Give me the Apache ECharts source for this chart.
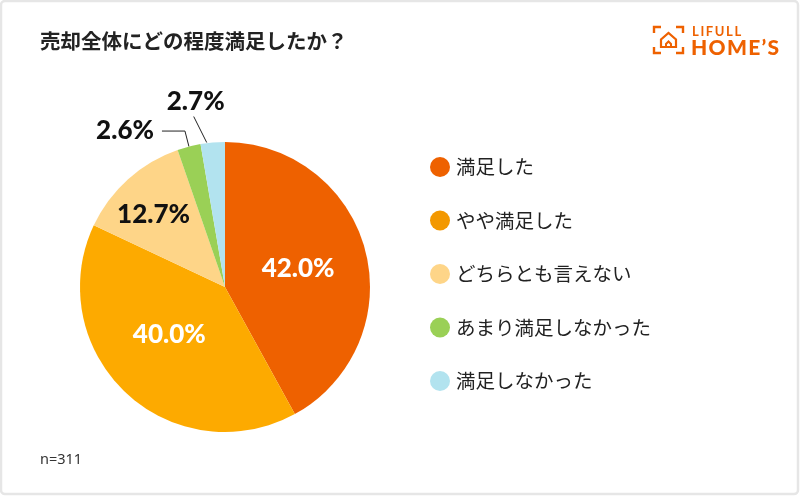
<!DOCTYPE html>
<html>
<head>
<meta charset="utf-8">
<script src="https://cdn.jsdelivr.net/npm/echarts@6/dist/echarts.min.js"></script>
<style>
html,body{margin:0;padding:0;background:#fff;}
#main{width:800px;height:496px;}
</style>
</head>
<body>
<div id="main"></div>
<script>
const categories = ['満足した', 'やや満足した', 'どちらとも言えない', 'あまり満足しなかった', '満足しなかった'];
const values = [42.0, 40.0, 12.7, 2.6, 2.7];
const sliceColors = ['#EE6100', '#FDAA00', '#FED588', '#9AD056', '#B2E3EF'];
const legendColors = ['#EE6100', '#F39800', '#FED588', '#9AD056', '#B2E3EF'];
const labelColors = ['#ffffff', '#ffffff', '#111111', '#111111', '#111111'];
const titleText = '売却全体にどの程度満足したか？';
const noteText = 'n=311';

const orange = '#EE6100';
const chart = echarts.init(document.getElementById('main'));

const data = categories.map((name, i) => ({
  name: name,
  value: values[i],
  itemStyle: { color: sliceColors[i] },
  label: {
    position: i < 3 ? 'inside' : 'outside',
    color: labelColors[i]
  },
  labelLine: { show: i >= 3, length: i === 3 ? 16 : 28, length2: i === 3 ? 23 : 0 }
}));

const option = {
  animation: false,
  backgroundColor: '#ffffff',
  title: {
    text: titleText,
    left: 40,
    top: 31,
    padding: 0,
    textStyle: { fontFamily: 'Noto Sans CJK JP', fontSize: 20.5, fontWeight: 'bold', color: '#222222' }
  },
  legend: {
    orient: 'vertical',
    left: 425,
    top: 152,
    itemWidth: 20,
    itemHeight: 20,
    itemGap: 33.5,
    icon: 'circle',
    selectedMode: false,
    data: categories.map((name, i) => ({ name: name, itemStyle: { color: legendColors[i] } })),
    textStyle: { fontFamily: 'Noto Sans CJK JP', fontSize: 19.5, color: '#222222', padding: [0, 0, 0, 1], lineHeight: 20 }
  },
  graphic: [
    { type: 'rect', shape: { x: 1, y: 1, width: 797, height: 493, r: 4 }, style: { fill: 'none', stroke: '#e6e6e6', lineWidth: 2.5 }, silent: true },
    { type: 'text', left: 40, top: 452, style: { text: noteText, font: '14.5px "Noto Sans"', fill: '#333333' } },
    // logo brackets
    { type: 'polyline', shape: { points: [[654, 33], [654, 27], [661, 27]] }, style: { stroke: orange, lineWidth: 2.4, fill: 'none' } },
    { type: 'polyline', shape: { points: [[676, 27], [683, 27], [683, 33]] }, style: { stroke: orange, lineWidth: 2.4, fill: 'none' } },
    { type: 'polyline', shape: { points: [[654, 47], [654, 53], [661, 53]] }, style: { stroke: orange, lineWidth: 2.4, fill: 'none' } },
    { type: 'polyline', shape: { points: [[676, 53], [683, 53], [683, 47]] }, style: { stroke: orange, lineWidth: 2.4, fill: 'none' } },
    { type: 'polygon', shape: { points: [[661, 47], [661, 39.5], [668.5, 33], [676, 39.5], [676, 47]] }, style: { stroke: orange, lineWidth: 2.2, fill: 'none' } },
    { type: 'polyline', shape: { points: [[666, 47], [666, 44], [668.5, 41.5], [671, 44], [671, 47]] }, style: { stroke: orange, lineWidth: 2, fill: 'none' } },
    { type: 'text', left: 692, top: 25, style: { text: 'L\u2009I\u2009F\u2009U\u2009L\u2009L', font: 'bold 13px Lato', fill: orange } },
    { type: 'text', left: 691, top: 38, style: { text: 'H\u200aO\u200aM\u200aE\u200a’\u200aS', font: '900 21px Lato', fill: orange } }
  ],
  series: [{
    type: 'pie',
    center: [225, 287],
    radius: 145,
    startAngle: 90,
    clockwise: true,
    avoidLabelOverlap: false,
    silent: true,
    data: data,
    label: {
      show: true,
      fontFamily: 'Lato',
      fontWeight: 900,
      fontSize: 26,
      distanceToLabelLine: 8,
      formatter: p => p.value.toFixed(1) + '%'
    },
    labelLine: {
      lineStyle: { color: '#222222', width: 1 }
    },
    labelLayout: function (p) {
      const r = p.labelRect;
      if (p.dataIndex === 1) {
        return { x: r.x + r.width / 2 - 4, y: r.y + r.height / 2 - 7, align: 'center', verticalAlign: 'middle' };
      }
      if (p.dataIndex === 2) {
        return { x: r.x + r.width / 2 - 21, y: r.y + r.height / 2 - 16, align: 'center', verticalAlign: 'middle' };
      }
      if (p.dataIndex === 4 && p.labelLinePoints) {
        const a = p.labelLinePoints[0];
        return {
          x: a[0] - 17, y: a[1] - 41, align: 'center', verticalAlign: 'middle',
          labelLinePoints: [[a[0] - 6, a[1]], [a[0] - 19, a[1] - 26]]
        };
      }
      return {};
    }
  }]
};
chart.setOption(option);
</script>
</body>
</html>
